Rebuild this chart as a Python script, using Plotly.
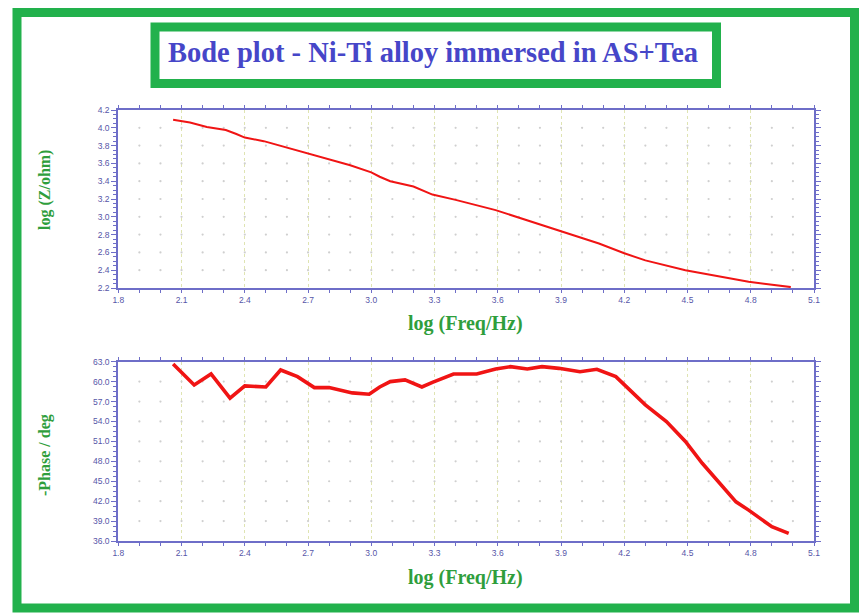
import numpy as np
import plotly.graph_objects as go

# ---- data: impedance modulus vs frequency ----
logf_mod = [2.06, 2.14, 2.22, 2.31, 2.36, 2.40, 2.49, 2.61, 2.70, 2.80, 2.90,
            3.00, 3.04, 3.09, 3.20, 3.29, 3.40, 3.59, 3.75, 3.89, 4.08, 4.20,
            4.30, 4.49, 4.62, 4.79, 4.99]
log_z = [4.09, 4.06, 4.01, 3.975, 3.93, 3.89, 3.85, 3.77, 3.71, 3.65, 3.58,
         3.50, 3.45, 3.40, 3.34, 3.25, 3.19, 3.075, 2.95, 2.84, 2.70, 2.59,
         2.51, 2.40, 2.34, 2.27, 2.21]

# ---- data: phase angle vs frequency ----
logf_ph = [2.06, 2.16, 2.24, 2.33, 2.40, 2.50, 2.57, 2.65, 2.73, 2.80, 2.91,
           2.99, 3.04, 3.09, 3.16, 3.24, 3.29, 3.39, 3.50, 3.59, 3.66, 3.74,
           3.81, 3.89, 3.99, 4.07, 4.16, 4.22, 4.30, 4.40, 4.49, 4.57, 4.65,
           4.73, 4.79, 4.90, 4.98]
neg_phase = [62.65, 59.5, 61.15, 57.5, 59.35, 59.2, 61.75, 60.75, 59.1, 59.1,
             58.3, 58.1, 59.2, 60.0, 60.25, 59.2, 59.9, 61.15, 61.15, 61.9,
             62.25, 61.9, 62.25, 62.0, 61.5, 61.85, 60.75, 59.0, 56.5, 54.0,
             51.0, 47.7, 44.7, 41.9, 40.65, 38.15, 37.15]

# ---- axis settings ----
x_range = [1.8, 5.1]
x_major = 0.3
x_minor = 0.1
z_range = [2.2, 4.2]
z_major = 0.2
ph_range = [36.0, 63.0]
ph_major = 3.0

W, H = 865, 614
GREEN = "#22b14c"
AXIS_BLUE = "#6e6ec8"
TICK_BLUE = "#5656a8"
LABEL_GREEN = "#2f9e3c"
RED = "#f01414"

# plot areas in pixels (left, right, top, bottom)
PX_L, PX_R = 118.3, 814.0
TOP_T, TOP_B = 110.0, 288.0
BOT_T, BOT_B = 361.7, 541.0


def xdom(a, b):
    return [a / W, b / W]


def ydom(top, bottom):
    return [1 - bottom / H, 1 - top / H]


fig = go.Figure()

# faint dot grid: one dot per minor x step on each major y row
xs_dots = np.round(np.arange(x_range[0] + x_minor, x_range[1] - 0.01, x_minor), 2)
z_rows = np.round(np.arange(z_range[0] + z_major, z_range[1] - 0.01, z_major), 2)
ph_rows = np.round(np.arange(ph_range[0] + ph_major, ph_range[1] - 0.01, ph_major), 2)
gx, gy = np.meshgrid(xs_dots, z_rows)
fig.add_trace(go.Scatter(x=gx.ravel(), y=gy.ravel(), mode="markers",
                         marker=dict(size=2.2, color="#cfcfcf"),
                         hoverinfo="skip", showlegend=False,
                         xaxis="x", yaxis="y"))
gx2, gy2 = np.meshgrid(xs_dots, ph_rows)
fig.add_trace(go.Scatter(x=gx2.ravel(), y=gy2.ravel(), mode="markers",
                         marker=dict(size=2.2, color="#cfcfcf"),
                         hoverinfo="skip", showlegend=False,
                         xaxis="x2", yaxis="y2"))

# curves
fig.add_trace(go.Scatter(x=logf_mod, y=log_z, mode="lines",
                         line=dict(color=RED, width=2),
                         showlegend=False, xaxis="x", yaxis="y"))
fig.add_trace(go.Scatter(x=logf_ph, y=neg_phase, mode="lines",
                         line=dict(color=RED, width=3.6),
                         showlegend=False, xaxis="x2", yaxis="y2"))

tick_font = dict(family="Liberation Sans, Arial, sans-serif", size=8.5, color=TICK_BLUE)


def xaxis_cfg(anchor, top, bottom):
    return dict(domain=xdom(PX_L, PX_R), anchor=anchor, range=x_range,
                tick0=x_range[0], dtick=x_major, tickformat=".1f",
                ticks="outside", ticklen=3, tickwidth=1, tickcolor=AXIS_BLUE,
                minor=dict(dtick=x_minor, tick0=x_range[0], ticks="outside",
                           ticklen=3, tickcolor=AXIS_BLUE, showgrid=False),
                showline=True, linecolor=AXIS_BLUE, linewidth=2,
                mirror="allticks", showgrid=True, gridcolor="#dfe4b2",
                griddash="dot", gridwidth=1, zeroline=False,
                tickfont=tick_font, automargin=False, fixedrange=True)


def yaxis_cfg(anchor, top, bottom, rng, major, minor_step):
    return dict(domain=ydom(top, bottom), anchor=anchor, range=rng,
                tick0=rng[0], dtick=major, tickformat=".1f",
                ticks="outside", ticklen=5, tickwidth=1, tickcolor=AXIS_BLUE,
                minor=dict(dtick=minor_step, tick0=rng[0], ticks="outside",
                           ticklen=3, tickcolor=AXIS_BLUE, showgrid=False),
                showline=True, linecolor=AXIS_BLUE, linewidth=2,
                mirror="allticks", showgrid=False, zeroline=False,
                tickfont=tick_font, automargin=False, fixedrange=True)


fig.update_layout(
    width=W, height=H,
    margin=dict(l=0, r=0, t=0, b=0),
    paper_bgcolor="white", plot_bgcolor="white",
    xaxis=xaxis_cfg("y", TOP_T, TOP_B),
    yaxis=yaxis_cfg("x", TOP_T, TOP_B, z_range, z_major, 0.05),
    xaxis2=xaxis_cfg("y2", BOT_T, BOT_B),
    yaxis2=yaxis_cfg("x2", BOT_T, BOT_B, ph_range, ph_major, 0.75),
)

serif = "Liberation Serif, Times New Roman, serif"
ytitle_font = dict(family=serif, size=16, color=LABEL_GREEN)
xtitle_font = dict(family=serif, size=20, color=LABEL_GREEN)

annotations = [
    dict(text="<b>Bode plot - Ni-Ti alloy immersed in AS+Tea</b>",
         x=432.5 / W, y=1 - 52 / H,
         font=dict(family=serif, size=28.5, color="#4646c8")),
    dict(text="<b>log (Z/ohm)</b>", x=45 / W, y=1 - 190 / H, textangle=-90,
         font=ytitle_font),
    dict(text="<b>-Phase / deg</b>", x=45 / W, y=1 - 455 / H, textangle=-90,
         font=ytitle_font),
    dict(text="<b>log (Freq/Hz)</b>", x=465 / W, y=1 - 323 / H, font=xtitle_font),
    dict(text="<b>log (Freq/Hz)</b>", x=465 / W, y=1 - 577 / H, font=xtitle_font),
]
for a in annotations:
    a.update(xref="paper", yref="paper", showarrow=False,
             xanchor="center", yanchor="middle")
fig.update_layout(annotations=annotations)

# green frames: outer border and title box
fig.update_layout(shapes=[
    dict(type="rect", xref="paper", yref="paper",
         x0=17 / W, x1=854.5 / W, y0=1 - 608 / H, y1=1 - 12.5 / H,
         line=dict(color=GREEN, width=9), layer="below"),
    dict(type="rect", xref="paper", yref="paper",
         x0=155 / W, x1=716.5 / W, y0=1 - 83.5 / H, y1=1 - 27 / H,
         line=dict(color=GREEN, width=9), layer="below"),
])

fig.write_html("out.html")
